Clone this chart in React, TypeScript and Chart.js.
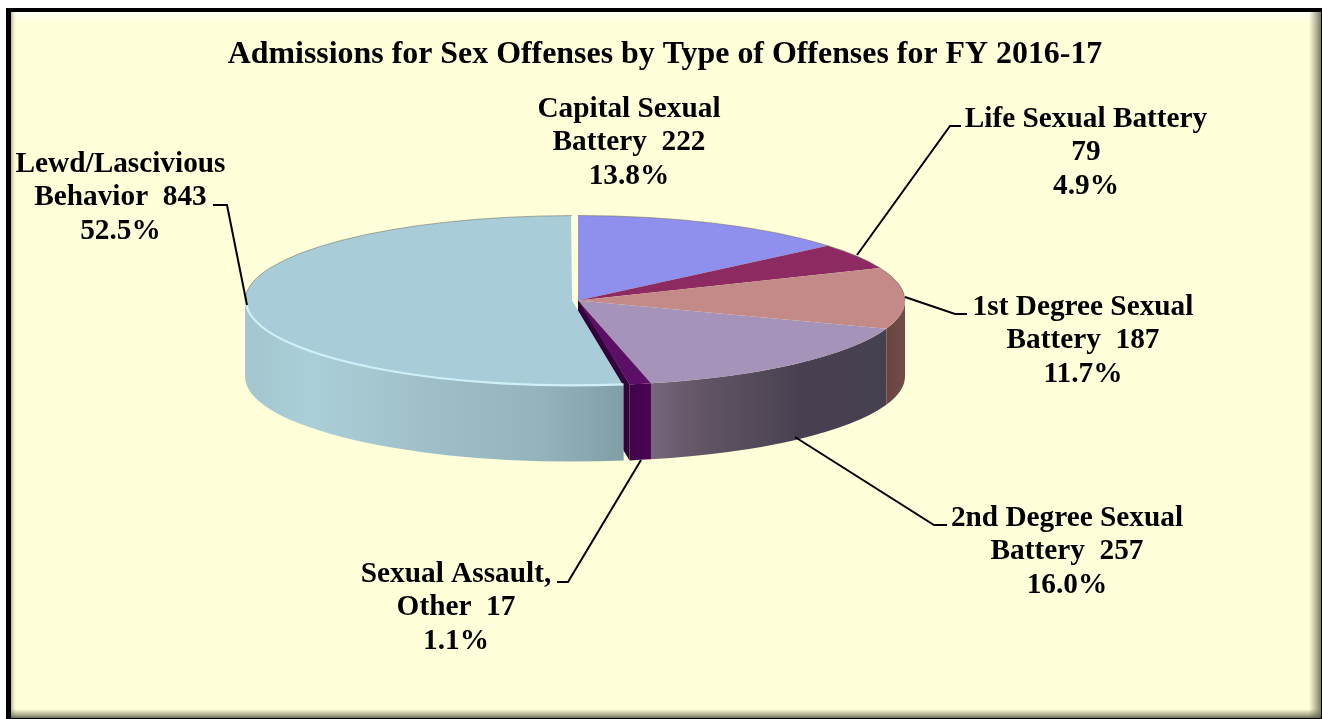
import React, { useEffect, useRef } from "react";
import { Chart, registerables } from "chart.js";

Chart.register(...registerables);

const TITLE = "Admissions for Sex Offenses by Type of Offenses for FY 2016-17";
const CATEGORIES = [
  "Capital Sexual Battery",
  "Life Sexual Battery",
  "1st Degree Sexual Battery",
  "2nd Degree Sexual Battery",
  "Sexual Assault, Other",
  "Lewd/Lascivious Behavior",
];
const VALUES = [222, 79, 187, 257, 17, 843];
const LABEL_LINES = [
  ["Capital Sexual", "Battery  222", "13.8%"],
  ["Life Sexual Battery", "79", "4.9%"],
  ["1st Degree Sexual", "Battery  187", "11.7%"],
  ["2nd Degree Sexual", "Battery  257", "16.0%"],
  ["Sexual Assault,", "Other  17", "1.1%"],
  ["Lewd/Lascivious", "Behavior  843", "52.5%"],
];
const TOP_COLORS = ["#8F8FEE", "#8E2A62", "#C48A87", "#A593B9", "#5C0F66", "#A8CDD8"];
const OFFSETS = [0, 0, 0, 0, 0, 24];

// Side-wall shading: [x, colour] stops
const WALLS: Record<number, [number, string][]> = {
  2: [[886, "#6A4540"], [905, "#714C48"]],
  3: [[651, "#76657C"], [700, "#625666"], [800, "#484050"], [888, "#464050"]],
  4: [[623, "#3E0444"], [651, "#4B0554"]],
  5: [[245, "#A4C6CE"], [310, "#AACFD8"], [430, "#9FBFC8"], [540, "#94B3BB"], [624, "#7F9EA5"]],
};

// Label placement: centre x, first baseline, and the leader polyline
const LABEL_BOXES = [
  { x: 629, y: 117, leader: [] as number[][] },
  { x: 1086, y: 127, leader: [[857, 255], [950, 126], [961, 126]] },
  { x: 1083, y: 315, leader: [[905, 297], [955, 314], [967, 314]] },
  { x: 1067, y: 526, leader: [[795, 437], [934, 525], [947, 525]] },
  { x: 456, y: 582, leader: [[641, 460], [568, 582], [557, 582]] },
  { x: 120.5, y: 172, leader: [[247, 305], [227, 205], [213, 205]] },
];

const PIE = { cx: 578, cy: 300.5, rx: 327, ry: 85, depth: 76 };
const K = PIE.ry / PIE.rx;
const FONT = "'Liberation Serif', 'Times New Roman', serif";

function frame(ctx: CanvasRenderingContext2D, W: number, H: number) {
  ctx.fillStyle = "#FFFFFF";
  ctx.fillRect(0, 0, W, H);
  ctx.fillStyle = "#000000";
  ctx.fillRect(6, 8, W - 6, H - 8);
  const L = 11, T = 12, R = W - 1, B = H - 1;
  ctx.fillStyle = "#FFFFD9";
  ctx.fillRect(L, T, R - L, B - T);
  let g = ctx.createLinearGradient(0, T, 0, T + 13);
  g.addColorStop(0, "rgba(255,255,245,1)");
  g.addColorStop(1, "rgba(255,255,235,0)");
  ctx.fillStyle = g;
  ctx.fillRect(L, T, R - L, 13);
  g = ctx.createLinearGradient(L, 0, L + 6, 0);
  g.addColorStop(0, "rgba(120,120,90,0.55)");
  g.addColorStop(1, "rgba(255,255,217,0)");
  ctx.fillStyle = g;
  ctx.fillRect(L, T, 6, B - T);
  g = ctx.createLinearGradient(R - 12, 0, R, 0);
  g.addColorStop(0, "rgba(120,120,90,0)");
  g.addColorStop(1, "rgba(100,100,80,0.85)");
  ctx.fillStyle = g;
  ctx.fillRect(R - 12, T, 12, B - T);
  g = ctx.createLinearGradient(0, B - 9, 0, B);
  g.addColorStop(0, "rgba(120,120,90,0)");
  g.addColorStop(1, "rgba(90,90,70,0.85)");
  ctx.fillStyle = g;
  ctx.fillRect(L, B - 9, R - L, 9);
}

function arcGeom(a: any) {
  const mid = (a.startAngle + a.endAngle) / 2;
  const fix = (a.options.offset || 0) / 4;
  return {
    x: PIE.cx + Math.cos(mid) * fix,
    y: PIE.cy + Math.sin(mid) * fix * K,
    R: a.outerRadius + fix,
  };
}

const pie3d = {
  id: "pie3d",
  afterDatasetUpdate(chart: any) {
    // An exploded slice is drawn wider by its shift; keep every slice on one radius
    chart.getDatasetMeta(0).data.forEach((a: any, i: number) => {
      a.outerRadius = PIE.rx - OFFSETS[i] / 4;
    });
  },
  beforeDraw(chart: any) {
    frame(chart.ctx, chart.width, chart.height);
  },
  beforeDatasetsDraw(chart: any) {
    const ctx = chart.ctx as CanvasRenderingContext2D;
    const arcs = chart.getDatasetMeta(0).data;
    ctx.save();
    // Through the gap, the cut face of the small wedge shows
    const small = arcs[4];
    const px = PIE.cx + Math.cos(small.endAngle) * small.outerRadius;
    const py = PIE.cy + Math.sin(small.endAngle) * small.outerRadius * K;
    ctx.beginPath();
    ctx.moveTo(PIE.cx, PIE.cy - 1.5);
    ctx.lineTo(px, py);
    ctx.lineTo(px, py + PIE.depth);
    ctx.lineTo(PIE.cx, PIE.cy + PIE.depth);
    ctx.closePath();
    ctx.fillStyle = "#33023A";
    ctx.fill();
    arcs.forEach((a: any, i: number) => {
      const stops = WALLS[i];
      if (!stops) return;
      const { x, y, R } = arcGeom(a);
      const a0 = Math.max(a.startAngle, 0);
      const a1 = Math.min(a.endAngle, Math.PI);
      if (a1 <= a0) return;
      const r = R * K;
      const g = ctx.createLinearGradient(stops[0][0], 0, stops[stops.length - 1][0], 0);
      const span = stops[stops.length - 1][0] - stops[0][0];
      stops.forEach(([sx, c]) => g.addColorStop((sx - stops[0][0]) / span, c));
      ctx.beginPath();
      ctx.ellipse(x, y, R, r, 0, a0, a1);
      ctx.ellipse(x, y + PIE.depth, R, r, 0, a1, a0, true);
      ctx.closePath();
      ctx.fillStyle = g;
      ctx.fill();
    });
    // Squash the library's round pie into the tilted top face
    const first = arcs[0];
    ctx.translate(PIE.cx, PIE.cy);
    ctx.scale(1, K);
    ctx.translate(-first.x, -first.y);
  },
  afterDatasetsDraw(chart: any) {
    const ctx = chart.ctx as CanvasRenderingContext2D;
    ctx.restore();
    const arcs = chart.getDatasetMeta(0).data;
    arcs.forEach((a: any) => {
      const { x, y, R } = arcGeom(a);
      const r = R * K;
      // fine rim along the back of the top face
      const ranges = [
        [Math.max(a.startAngle, Math.PI), Math.min(a.endAngle, Math.PI * 2)],
        [a.startAngle, Math.min(a.endAngle, 0)],
      ];
      ctx.lineWidth = 1;
      ctx.strokeStyle = "rgba(110,110,95,0.55)";
      ranges.forEach(([b0, b1]) => {
        if (b1 <= b0) return;
        ctx.beginPath();
        ctx.ellipse(x, y, R, r, 0, b0, b1);
        ctx.stroke();
      });
    });
    // Bright bevel along the front of the big slice
    const big = arcs[5];
    const bg = arcGeom(big);
    ctx.beginPath();
    ctx.ellipse(bg.x, bg.y, bg.R - 1, (bg.R - 1) * K, 0, big.startAngle, Math.PI);
    ctx.lineWidth = 2.2;
    ctx.strokeStyle = "#CFF0F7";
    ctx.stroke();

    // Leader lines and labels
    ctx.strokeStyle = "#000000";
    ctx.lineWidth = 2;
    ctx.fillStyle = "#000000";
    ctx.font = `bold 29.3px ${FONT}`;
    ctx.textAlign = "center";
    ctx.textBaseline = "alphabetic";
    LABEL_BOXES.forEach((b, i) => {
      if (b.leader.length) {
        ctx.beginPath();
        b.leader.forEach(([px, py], j) => (j ? ctx.lineTo(px, py) : ctx.moveTo(px, py)));
        ctx.stroke();
      }
      LABEL_LINES[i].forEach((t, j) => ctx.fillText(t, b.x, b.y + j * 33.4));
    });
  },
};

export default function App() {
  const ref = useRef<HTMLCanvasElement | null>(null);
  useEffect(() => {
    document.body.style.margin = "0";
    const chart = new Chart(ref.current as HTMLCanvasElement, {
      type: "pie",
      data: {
        labels: CATEGORIES,
        datasets: [
          {
            data: VALUES,
            backgroundColor: TOP_COLORS,
            borderWidth: 0,
            offset: OFFSETS,
            radius: PIE.rx,
            clip: false,
          } as any,
        ],
      },
      options: {
        responsive: false,
        animation: false,
        rotation: 0,
        layout: { padding: { left: 8 } },
        plugins: {
          legend: { display: false },
          tooltip: { enabled: false },
          title: {
            display: true,
            text: TITLE,
            color: "#000000",
            font: { family: FONT, size: 31.9, weight: "bold" },
            padding: { top: 36, bottom: 4 },
          },
        },
      },
      plugins: [pie3d],
    } as any);
    return () => chart.destroy();
  }, []);
  return (
    <div style={{ position: "fixed", left: 0, top: 0, width: 1322, height: 719 }}>
      <canvas ref={ref} width={1322} height={719} style={{ display: "block" }} />
    </div>
  );
}
